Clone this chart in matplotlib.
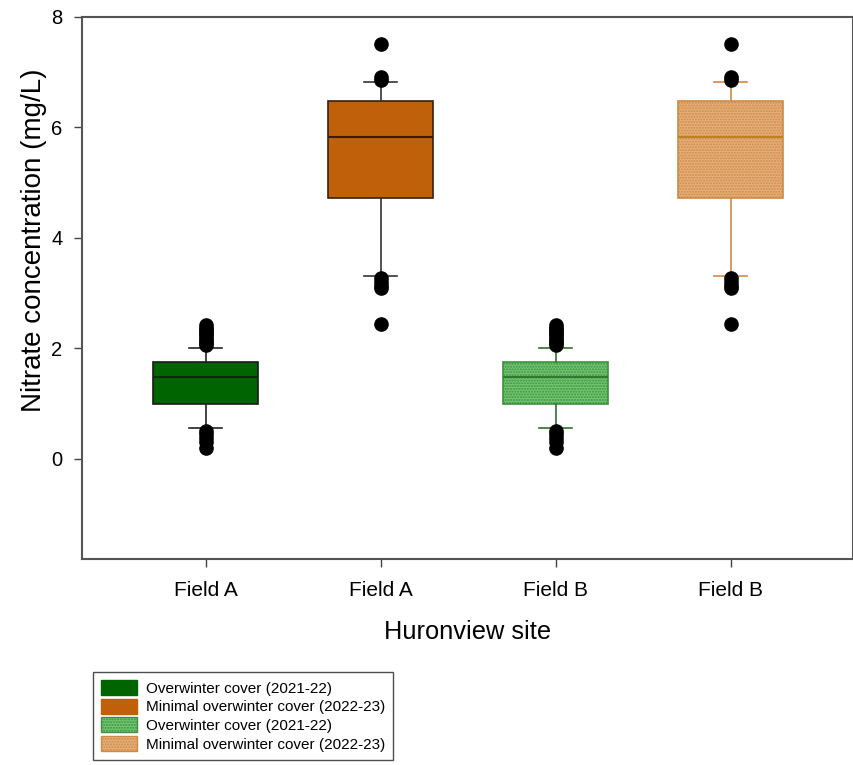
import matplotlib
matplotlib.use("Agg")
import matplotlib.pyplot as plt
from matplotlib.patches import Patch

plt.rcParams['font.family'] = ['Liberation Sans', 'DejaVu Sans']

# ---- data ----
tick_labels = ["Field A", "Field A", "Field B", "Field B"]
legend_labels = ["Overwinter cover (2021-22)", "Minimal overwinter cover (2022-23)",
                 "Overwinter cover (2021-22)", "Minimal overwinter cover (2022-23)"]
q1 = [0.99, 4.72, 0.99, 4.72]
median = [1.49, 5.83, 1.49, 5.83]
q3 = [1.76, 6.48, 1.76, 6.48]
whis_lo = [0.56, 3.31, 0.56, 3.31]
whis_hi = [2.01, 6.82, 2.01, 6.82]
fliers_cover = [2.06, 2.10, 2.14, 2.18, 2.22, 2.26, 2.30, 2.34, 2.38, 2.43,
                0.50, 0.45, 0.38, 0.30, 0.20]
fliers_minimal = [7.51, 6.92, 6.86, 3.27, 3.20, 3.14, 3.10, 2.44]
fliers = [fliers_cover, fliers_minimal, fliers_cover, fliers_minimal]

# ---- styles ----
face_colors = ["#006400", "#C0600A", "#72C872", "#E5B07C"]
edge_colors = ["#1a1a1a", "#3a2010", "#3F8F3F", "#D08A45"]
median_colors = ["#0b2a0b", "#3a1a08", "#2F7A2F", "#C08020"]
whisker_colors = ["#222222", "#333333", "#2F6F2F", "#D08A45"]
hatches = [None, None, "......", "......"]

fig = plt.figure(figsize=(8.54, 7.65), dpi=100)
ax = fig.add_axes([82/854, 1-559/765, (853-82)/854, (559-17)/765])

positions = [1, 2, 3, 4]
for i in range(4):
    stats = [dict(med=median[i], q1=q1[i], q3=q3[i], whislo=whis_lo[i],
                  whishi=whis_hi[i], fliers=fliers[i], label=tick_labels[i])]
    ax.bxp(stats, positions=[positions[i]], widths=0.6, patch_artist=True,
           showfliers=True, manage_ticks=False,
           boxprops=dict(facecolor=face_colors[i], edgecolor=edge_colors[i],
                         linewidth=1.2, hatch=hatches[i]),
           medianprops=dict(color=median_colors[i], linewidth=1.5),
           whiskerprops=dict(color=whisker_colors[i], linewidth=1.2),
           capprops=dict(color=whisker_colors[i], linewidth=1.2),
           capwidths=0.19,
           flierprops=dict(marker='o', markerfacecolor='black',
                           markeredgecolor='black', markersize=9.5,
                           linestyle='none'))

ax.set_xlim(0.294, 4.70)
ax.set_ylim(-1.81, 8.0)
ax.set_xticks(positions)
ax.set_xticklabels(tick_labels, fontsize=15)
ax.set_yticks([0, 2, 4, 6, 8])
ax.set_yticklabels(["0", "2", "4", "6", "8"], fontsize=14.5)
ax.tick_params(direction='out', length=6, width=1, color='#444444',
               top=False, right=False)
ax.tick_params(axis='x', pad=9.5)
ax.tick_params(axis='y', pad=8)
for s in ax.spines.values():
    s.set_color('#555555')
    s.set_linewidth(1.5)

ax.set_xlabel("Huronview site", fontsize=18.3)
ax.xaxis.set_label_coords(0.5, -0.113)
ax.set_ylabel("Nitrate concentration (mg/L)", fontsize=20)
ax.yaxis.set_label_coords(-0.046, 0.589)

handles = [Patch(facecolor=face_colors[i], edgecolor=edge_colors[i] if hatches[i] else face_colors[i],
                 hatch=hatches[i], label=legend_labels[i]) for i in range(4)]
leg = fig.legend(handles=handles, loc='lower left',
                 bbox_to_anchor=(93/854, 5/765), bbox_transform=fig.transFigure,
                 fontsize=11, frameon=True, fancybox=False, handlelength=2.3,
                 handleheight=1.1, handletextpad=0.6, labelspacing=0.2,
                 borderpad=0.55, borderaxespad=0)
leg.get_frame().set_edgecolor('#222222')
leg.get_frame().set_linewidth(1.0)

fig.savefig("out.png", dpi=100)
